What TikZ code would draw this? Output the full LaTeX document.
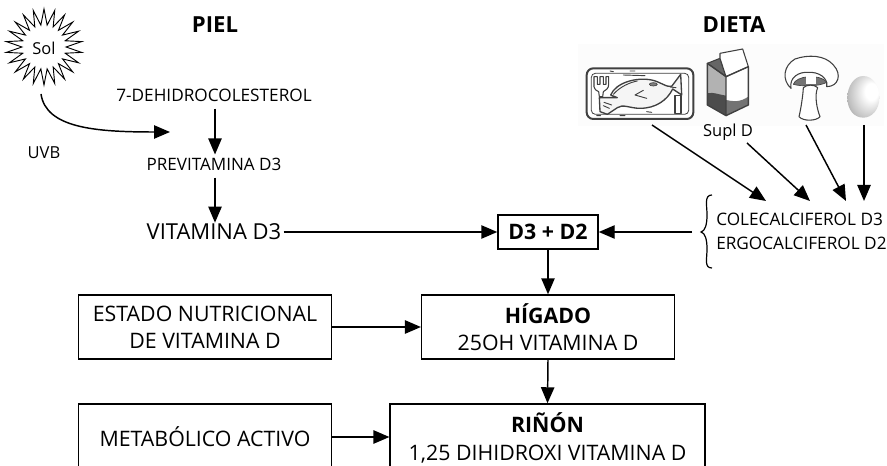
\documentclass[tikz,border=0pt]{standalone}
\usepackage{fontspec}
\setmainfont{Open Sans}
\usetikzlibrary{arrows.meta,shapes.geometric,calc}
\pgfdeclareradialshading{eggshade}{\pgfpoint{16bp}{8bp}}{color(0bp)=(white);color(10bp)=(white);color(30bp)=(black!25);color(50bp)=(black!65)}
\tikzset{
  px/.style={x=0.75pt,y=-0.75pt},
  arr/.style={draw=black,line width=1.1pt,-{Triangle[length=12pt,width=10pt]}},
  lbl/.style={inner sep=0pt,font=\fontsize{12.9pt}{15pt}\selectfont},
  big/.style={inner sep=0pt,font=\fontsize{16.5pt}{20pt}\selectfont},
  head/.style={inner sep=0pt,font=\fontsize{16.6pt}{19pt}\selectfont\bfseries},
  boxn/.style={draw=black,line width=1.1pt,inner sep=0pt,align=center,font=\fontsize{16pt}{20.5pt}\selectfont},
  ink/.style={draw=black!75,line width=0.8pt,line join=round,line cap=round},
  icon/.style={x=0.25pt,y=-0.25pt}
}
\begin{document}
\begin{tikzpicture}[px]
\useasboundingbox (0,0) rectangle (887,466);
\clip (0,0) rectangle (887,466);
\fill[black!1] (578,44) rectangle (884,126);
% sun
\node[star,star points=22,star point ratio=1.72,minimum size=57pt,draw=black,line width=0.7pt,inner sep=0pt] (sun) at (44,47) {};
\node[lbl,font=\fontsize{12.3pt}{14pt}\selectfont] (sol) at (44,48) {Sol};
\node[head] (piel) at (215,25) {PIEL};
\node[head] (dieta) at (734,25) {DIETA};
\node[lbl,font=\fontsize{12.4pt}{14pt}\selectfont] (uvb) at (44,153) {UVB};
\node[lbl] (dehi) at (214,95) {7-DEHIDROCOLESTEROL};
\node[lbl,font=\fontsize{12.8pt}{14pt}\selectfont] (previ) at (214,164) {PREVITAMINA D3};
\node[big] (vitd) at (214,232) {VITAMINA D3};
\coordinate (uvbs) at (41,94);
\coordinate (uvbe) at (170,132);
\draw[arr] (uvbs) .. controls (46,128) and (95,132) .. (uvbe);
\draw[arr] ($(dehi.south)+(1,7)$) -- ($(previ.north)+(1,-3)$);
\draw[arr] ($(previ.south)+(1,7)$) -- ($(vitd.north)+(1,-1)$);
% boxes
\node[boxn,font=\fontsize{16pt}{18pt}\selectfont\bfseries,minimum width=75pt,minimum height=25.5pt] (d3) at (548,232) {D3 + D2};
\node[boxn,minimum width=189.5pt,minimum height=48pt] (est) at (205,327) {ESTADO NUTRICIONAL\\DE VITAMINA D};
\node[boxn,minimum width=189.5pt,minimum height=48pt] (hig) at (548,327) {\textbf{HÍGADO}\\25OH VITAMINA D};
\node[boxn,minimum width=189.5pt,minimum height=54pt] (met) at (205,440) {};
\node[boxn,draw=none] (mettxt) at (205,437) {METABÓLICO ACTIVO};
\node[boxn,minimum width=236pt,minimum height=54pt] (rin) at (547.5,440) {};
\node[boxn,draw=none,minimum width=200pt] (rintxt) at (547.5,438) {\textbf{RIÑÓN}\\1,25 DIHIDROXI VITAMINA D};
% chemistry
\node[lbl,anchor=west] (cole) at (716,219) {COLECALCIFEROL D3};
\node[lbl,anchor=west] (ergo) at (716,243) {ERGOCALCIFEROL D2};
\coordinate (bt) at (712,195);
\coordinate (bb) at (712,268);
\draw[line width=0.9pt] (bt) .. controls (704,195) and (707,205) .. (707,215) .. controls (707,225) and (705,231) .. (701,232) .. controls (705,233) and (707,239) .. (707,249) .. controls (707,259) and (704,268) .. (bb);
\coordinate (bl) at (692,232);
\draw[arr] (bl) -- (d3.east);
\draw[arr] ($(vitd.east)+(2,0)$) -- (d3.west);
\draw[arr] (d3.south) -- (hig.north);
\draw[arr] (est.east) -- (hig.west);
\draw[arr] (hig.south) -- (rin.north);
\draw[arr] (met.east|-mettxt) -- (rin.west|-mettxt);
% tray (coordinates in crop pixels)
\begin{scope}[shift={(580,45)},icon]
\draw[draw=black!75,line width=1.5pt,fill=white,rounded corners=5pt] (20,70) rectangle (340,222);
\draw[ink,line width=0.6pt,rounded corners=3pt] (34,85) rectangle (326,208);
% fork
\draw[ink,fill=white] (42,95) -- (42,125) .. controls (44,135) and (52,138) .. (56,140) -- (58,155) -- (68,155) -- (70,140) .. controls (78,136) and (86,130) .. (86,118) -- (86,95) -- (78,95) -- (78,118) -- (70,118) -- (70,95) -- (60,95) -- (60,118) -- (52,118) -- (52,95) -- cycle;
% fish
\draw[ink,line width=1pt,fill=black!4] (92,150) .. controls (108,112) and (170,96) .. (215,105) .. controls (240,110) and (260,128) .. (275,124) -- (302,88) -- (305,150) -- (278,132) .. controls (262,165) and (228,190) .. (180,190) .. controls (150,190) and (128,176) .. (112,188) -- (82,208) -- (60,200) -- (58,158) -- (112,158) -- cycle;
\draw[ink,line width=0.7pt] (100,148) .. controls (120,125) and (150,112) .. (172,108);
\draw[ink,line width=0.7pt] (165,150) -- (190,136) (165,150) -- (200,160);
\draw[ink,fill=black!50,line width=0.5pt] (220,118) ellipse [x radius=12,y radius=5];
\draw[ink,line width=0.7pt] (270,126) -- (288,128);
\draw[ink,line width=0.7pt] (70,182) -- (88,190) (72,172) -- (95,180);
\draw[ink,fill=white] (285,152) rectangle (303,205);
\draw[ink,line width=0.7pt] (130,90) -- (195,92) (150,78) -- (165,78) (90,78) -- (100,80) (120,212) -- (135,212) (200,200) -- (215,202) (50,212) -- (62,212);
\end{scope}
% carton
\begin{scope}[shift={(580,45)},icon]
\fill[black!30] (382,55) -- (438,95) -- (438,212) -- (382,180) -- cycle;
\fill[black!70] (382,145) .. controls (400,140) and (420,150) .. (438,152) -- (438,212) -- (382,180) -- cycle;
\fill[white] (438,95) -- (505,65) -- (505,180) -- (438,212) -- cycle;
\fill[black!55] (438,165) .. controls (460,170) and (480,172) .. (505,155) -- (505,180) -- (438,212) -- cycle;
\draw[ink,fill=black!60] (382,55) -- (420,40) -- (438,95) -- cycle;
\draw[ink,fill=white] (420,25) -- (488,12) -- (505,65) -- (438,95) -- (420,40) -- cycle;
\draw[ink,line width=1pt] (382,55) -- (438,95) -- (505,65) -- (505,180) -- (438,212) -- (382,180) -- cycle (438,95) -- (438,212);
\end{scope}
% mushroom
\begin{scope}[shift={(775,45)},icon]
\draw[ink,fill=white] (48,130) .. controls (20,105) and (25,62) .. (60,42) .. controls (100,28) and (150,30) .. (175,60) .. controls (202,88) and (190,125) .. (155,125) .. controls (160,98) and (130,80) .. (100,82) .. controls (70,80) and (42,98) .. (48,130) -- cycle;
\draw[ink,fill=black!55,line width=0.5pt] (55,118) .. controls (62,92) and (135,85) .. (156,112) .. controls (130,125) and (80,125) .. (55,118) -- cycle;
\fill[white] (92,90) rectangle (122,118);
\draw[ink,fill=white] (85,128) .. controls (84,150) and (78,190) .. (72,215) .. controls (85,230) and (125,228) .. (135,215) .. controls (125,190) and (118,150) .. (128,128) .. controls (118,118) and (95,118) .. (85,128) -- cycle;
\end{scope}
% egg
\begin{scope}[shift={(775,45)},icon]
\shade[shading=eggshade] (265,93) .. controls (295,93) and (313,125) .. (313,158) .. controls (313,195) and (290,218) .. (265,218) .. controls (238,218) and (217,195) .. (217,158) .. controls (217,125) and (237,93) .. (265,93) -- cycle;
\end{scope}
% diet arrows
\node[lbl,font=\fontsize{12.4pt}{14pt}\selectfont] (supl) at (728,132) {Supl D};
\coordinate (fish) at (652,125);
\coordinate (mush) at (806,125);
\coordinate (egg) at (864,125);
\coordinate (c1) at (766,201);
\coordinate (c2) at (810,201);
\coordinate (c3) at (846,201);
\coordinate (c4) at (864,201);
\coordinate (sup) at (747,143);
\draw[arr] (fish) -- (c1);
\draw[arr] (sup) -- (c2);
\draw[arr] (mush) -- (c3);
\draw[arr] (egg) -- (c4);
\end{tikzpicture}
\end{document}
